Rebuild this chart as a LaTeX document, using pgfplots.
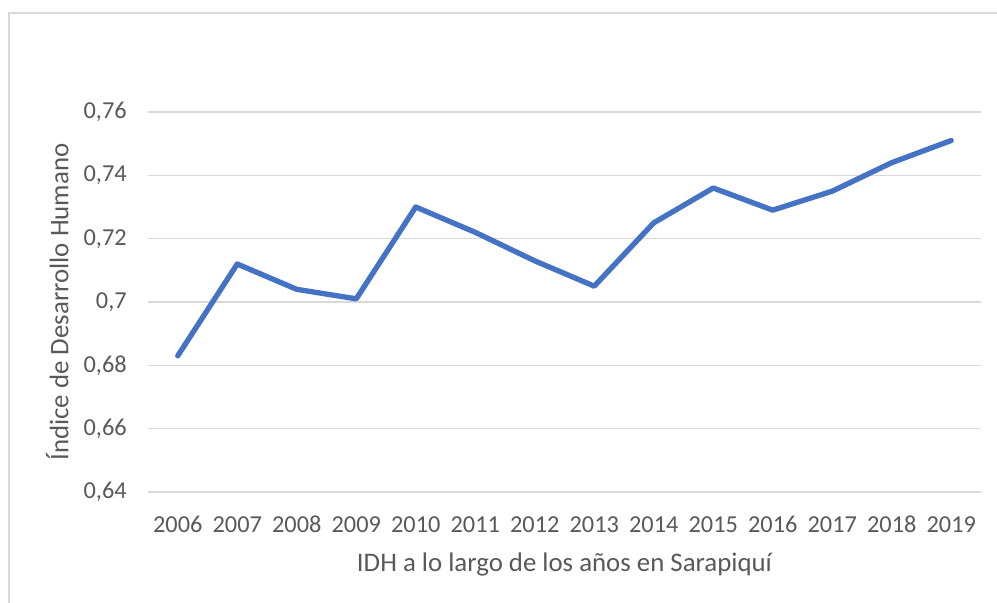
\documentclass[border=0pt]{standalone}
\usepackage{fontspec}
\setmainfont{Carlito}
\usepackage{pgfplots}
\pgfplotsset{compat=1.18}
\definecolor{txt}{HTML}{595959}
\definecolor{grd}{HTML}{D9D9D9}
\definecolor{serie}{HTML}{4472C4}
\begin{document}
\begin{tikzpicture}[x=1pt,y=1pt]
\useasboundingbox (0,0) rectangle (598.2,361.8);
\draw[grd, line width=1.2pt] (5.4,-20) -- (5.4,354) -- (620,354);
\begin{axis}[
  at={(88.8pt,66.6pt)}, anchor=south west,
  scale only axis, width=499.8pt, height=228pt,
  xmin=-0.5, xmax=13.5, ymin=0.64, ymax=0.76,
  xtick={0,...,13},
  xticklabels={2006,2007,2008,2009,2010,2011,2012,2013,2014,2015,2016,2017,2018,2019},
  ytick={0.64,0.66,0.68,0.70,0.72,0.74,0.76},
  yticklabels={{0,64},{0,66},{0,68},{0,7},{0,72},{0,74},{0,76}},
  axis line style={draw=none}, major tick length=0pt,
  ymajorgrids, grid style={grd, line width=0.9pt},
  tick label style={font=\fontsize{14.6}{17}\selectfont, text=txt, inner sep=0pt},
  yticklabel style={anchor=east, xshift=-12.6pt},
  xticklabel style={anchor=north, yshift=-14.4pt},
  label style={font=\fontsize{16.1}{19}\selectfont, text=txt},
  xlabel={IDH a lo largo de los años en Sarapiquí},
  ylabel={Índice de Desarrollo Humano},
  xlabel style={at={(axis description cs:0.5,-0.192)}, anchor=center},
  ylabel style={at={(axis description cs:-0.109,0.5)}, anchor=center, rotate=0},
]
\addplot[serie, line width=3.2pt, line join=round, line cap=round] coordinates {
 (0,0.683)(1,0.712)(2,0.704)(3,0.701)(4,0.730)(5,0.722)(6,0.713)
 (7,0.705)(8,0.725)(9,0.736)(10,0.729)(11,0.735)(12,0.744)(13,0.751)};
\end{axis}
\end{tikzpicture}
\end{document}
